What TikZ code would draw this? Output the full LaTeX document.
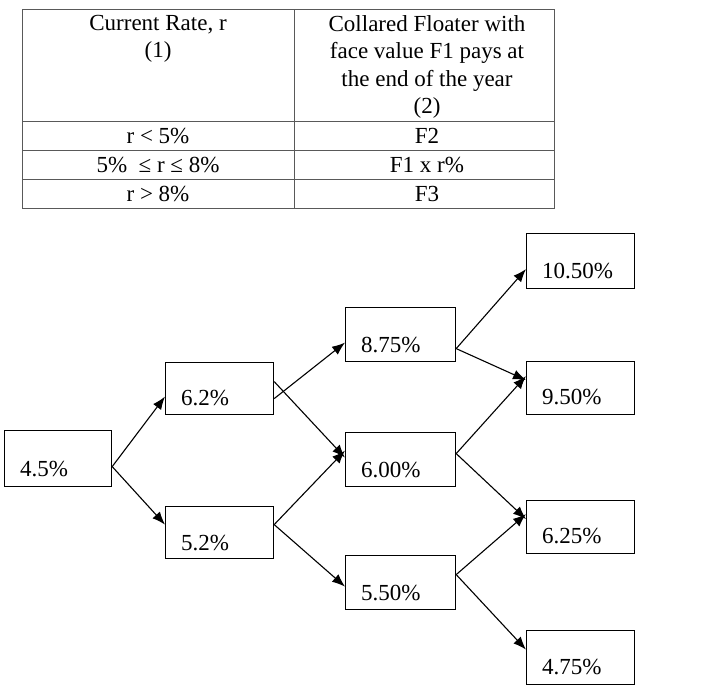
\documentclass[tikz,border=0pt]{standalone}
\usepackage{fontspec}
\setmainfont{Liberation Serif}
\usetikzlibrary{arrows.meta}
\begin{document}
\begin{tikzpicture}[x=1pt,y=-1pt,
  bx/.style={draw,line width=1.2pt,minimum width=108pt,minimum height=54pt,anchor=north west,inner sep=0pt},
  lbl/.style={font=\fontsize{23}{26}\selectfont,anchor=west,inner sep=0pt},
  cell/.style={font=\fontsize{23}{27.5}\selectfont,align=center,inner sep=0pt},
  ar/.style={-{Latex[length=13pt,width=10pt]},line width=1.1pt}]
\useasboundingbox (0,0) rectangle (726,686);
% table
\draw[line width=1pt,gray!70!black] (22,9) rectangle (554,208);
\draw[line width=1pt,gray!70!black] (294,9) -- (294,208) (22,121) -- (554,121) (22,150) -- (554,150) (22,179) -- (554,179);
\node[cell,anchor=north] (h1) at (158,15) {Current Rate, r\\(1)};
\node[cell,anchor=north] (h2) at (427,15) {Collared Floater with\\face value F1 pays at\\the end of the year\\(2)};
\node[cell] (r1) at (158,136) {r < 5\%};
\node[cell] (r2) at (158,165) {5\% \ ≤ r ≤ 8\%};
\node[cell] (r3) at (158,194) {r > 8\%};
\node[cell] (p1) at (427,136) {F2};
\node[cell] (p2) at (427,165) {F1 x r\%};
\node[cell] (p3) at (427,194) {F3};
% tree
\node[bx,minimum width=107pt,minimum height=56pt] (a) at (4,430) {};
\node[bx,minimum height=52pt] (b1) at (165,362) {};
\node[bx,minimum height=52pt] (b2) at (165,506) {};
\node[bx,minimum width=110pt] (c1) at (345,307) {};
\node[bx,minimum width=110pt] (c2) at (345,432) {};
\node[bx,minimum width=110pt] (c3) at (345,555) {};
\node[bx,minimum height=55pt] (d1) at (526,233) {};
\node[bx,minimum height=53pt] (d2) at (526,361) {};
\node[bx,minimum height=53pt] (d3) at (526,500) {};
\node[bx] (d4) at (526,630) {};
\node[lbl] at ([xshift=16pt,yshift=-10pt]a.west) {4.5\%};
\node[lbl] at ([xshift=16pt,yshift=-9pt]b1.west) {6.2\%};
\node[lbl] at ([xshift=16pt,yshift=-10pt]b2.west) {5.2\%};
\node[lbl] at ([xshift=16pt,yshift=-10pt]c1.west) {8.75\%};
\node[lbl] at ([xshift=16pt,yshift=-10pt]c2.west) {6.00\%};
\node[lbl] at ([xshift=16pt,yshift=-10pt]c3.west) {5.50\%};
\node[lbl] at ([xshift=16pt,yshift=-10pt]d1.west) {10.50\%};
\node[lbl] at ([xshift=16pt,yshift=-9pt]d2.west) {9.50\%};
\node[lbl] at ([xshift=16pt,yshift=-9pt]d3.west) {6.25\%};
\node[lbl] at ([xshift=16pt,yshift=-9pt]d4.west) {4.75\%};
% arrows
\draw[ar] ([yshift=-8pt]a.east) -- ([yshift=-8pt]b1.west);
\draw[ar] ([yshift=-8pt]a.east) -- ([yshift=8pt]b2.west);
\draw[ar] ([yshift=-10pt]b1.east) -- ([yshift=-8pt]c1.west);
\draw[ar] ([yshift=7pt]b1.east) -- ([yshift=2pt]c2.west);
\draw[ar] ([yshift=8pt]b2.east) -- ([yshift=9pt]c2.west);
\draw[ar] ([yshift=8pt]b2.east) -- ([yshift=-4pt]c3.west);
\draw[ar] ([yshift=-14pt]c1.east) -- ([yshift=-8pt]d1.west);
\draw[ar] ([yshift=-14pt]c1.east) -- ([yshift=8pt]d2.west);
\draw[ar] ([yshift=6pt]c2.east) -- ([yshift=12pt]d2.west);
\draw[ar] ([yshift=6pt]c2.east) -- ([yshift=8pt]d3.west);
\draw[ar] ([yshift=8pt]c3.east) -- ([yshift=13pt]d3.west);
\draw[ar] ([yshift=8pt]c3.east) -- ([yshift=8pt]d4.west);
\end{tikzpicture}
\end{document}
